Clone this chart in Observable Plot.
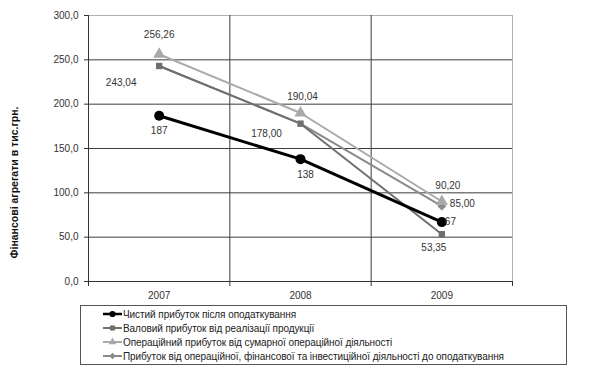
<!DOCTYPE html>
<html>
<head>
<meta charset="utf-8">
<script src="https://cdn.jsdelivr.net/npm/d3@7"></script>
<script src="https://cdn.jsdelivr.net/npm/@observablehq/plot@0.6"></script>
<style>
  body { margin: 0; background: #fff; font-family: "Liberation Sans", Arial, sans-serif; }
  #wrap { position: relative; width: 601px; height: 372px; }
  #legend { position: absolute; left: 80px; top: 305px; width: 485px; height: 58px; border: 1px solid #555; box-sizing: content-box; }
  .row { position: absolute; left: 22px; height: 14px; display: flex; align-items: center; font-size: 10px; letter-spacing: -0.07px; color: #222; white-space: nowrap; }
  .row svg { margin-right: 1px; }
</style>
</head>
<body>
<div id="wrap"><div id="chart"></div><div id="legend"></div></div>
<script>
const years = [2007, 2008, 2009];
const seriesNames = [
  "Чистий прибуток після оподаткування",
  "Валовий прибуток від реалізації продукції",
  "Операційний прибуток від сумарної операційної діяльності",
  "Прибуток від операційної, фінансової та інвестиційної діяльності до оподаткування"
];
const netProfit = [187, 138, 67];
const grossProfit = [243.04, 178.00, 53.35];
const operatingProfit = [256.26, 190.04, 90.20];
const pretaxProfit = [243.04, 178.00, 85.00];
const yTicks = [0, 50, 100, 150, 200, 250, 300];
const yTitle = "Фінансові агрегати в тис.грн.";

const colors = ["#000000", "#6f6f6f", "#a9a9a9", "#8a8a8a"];
const symbols = ["circle", "square", "triangle", "diamond2"];
const valueSets = [netProfit, grossProfit, operatingProfit, pretaxProfit];

const rows = [];
valueSets.forEach((vals, s) => vals.forEach((v, i) => rows.push({series: seriesNames[s], s, i, year: years[i], value: v})));
const bySeries = s => rows.filter(d => d.s === s);
const pick = (s, i) => rows.filter(d => d.s === s && d.year === years[i]);
const boundaries = years.map(y => y - 0.5).concat([years[years.length - 1] + 0.5]);
const fmt2 = v => v.toFixed(2).replace(".", ",");
const fmt0 = v => v.toFixed(0);

const labelStyle = {x: "year", y: "value", fontSize: 10, fill: "#333"};
const lbl = (s, i, f, opts) => Plot.text(pick(s, i), {...labelStyle, text: d => f(d.value), ...opts});

const chart = Plot.plot({
  width: 601,
  height: 305,
  marginLeft: 88,
  marginRight: 89,
  marginTop: 15,
  marginBottom: 24,
  style: {fontFamily: "'Liberation Sans', Arial, sans-serif", fontSize: "10px", color: "#333", background: "#fff"},
  x: {type: "linear", domain: [boundaries[0], boundaries[boundaries.length - 1]]},
  y: {domain: [yTicks[0], yTicks[yTicks.length - 1]]},
  marks: [
    Plot.gridY(yTicks.slice(1, -1), {stroke: "#3c3c3c", strokeOpacity: 1}),
    Plot.ruleY([yTicks[yTicks.length - 1]], {stroke: "#b0b0b0"}),
    Plot.ruleX(boundaries.slice(1, -1), {stroke: "#3c3c3c"}),
    Plot.ruleX(boundaries.slice(-1), {stroke: "#b0b0b0"}),
    Plot.axisY({ticks: yTicks, tickFormat: d => d.toFixed(1).replace(".", ","), tickSize: 4, tickPadding: 6, label: null, stroke: "#333", fill: "#333"}),
    Plot.axisX({ticks: boundaries, tickFormat: () => "", tickSize: 5, label: null, stroke: "#333"}),
    Plot.axisX({ticks: years, tickFormat: d => String(d), tickSize: 0, tickPadding: 10, label: null, fill: "#333"}),
    Plot.ruleX(boundaries.slice(0, 1), {stroke: "#333"}),
    Plot.ruleY(yTicks.slice(0, 1), {stroke: "#333"}),
    Plot.text([yTitle], {frameAnchor: "left", textAnchor: "middle", rotate: -90, dx: -74, dy: 34, fontWeight: "bold", fontSize: 10.5, fill: "#111"}),
    // lines
    Plot.line(bySeries(3), {x: "year", y: "value", stroke: colors[3], strokeWidth: 2}),
    Plot.line(bySeries(1), {x: "year", y: "value", stroke: colors[1], strokeWidth: 2}),
    Plot.line(bySeries(2), {x: "year", y: "value", stroke: colors[2], strokeWidth: 2}),
    Plot.line(bySeries(0), {x: "year", y: "value", stroke: colors[0], strokeWidth: 3}),
    // markers (diamonds hidden where they coincide with the squares)
    Plot.dot(bySeries(3).filter(d => d.value !== grossProfit[d.i]), {x: "year", y: "value", symbol: symbols[3], fill: colors[3], r: 4}),
    Plot.dot(bySeries(1), {x: "year", y: "value", symbol: symbols[1], fill: colors[1], r: 3.6}),
    Plot.dot(bySeries(2), {x: "year", y: "value", symbol: symbols[2], fill: colors[2], r: 4.5}),
    Plot.dot(bySeries(0), {x: "year", y: "value", symbol: symbols[0], fill: colors[0], r: 5}),
    // labels
    lbl(2, 0, fmt2, {dy: -19}),
    lbl(3, 0, fmt2, {dx: -38, dy: 17}),
    lbl(0, 0, fmt0, {dy: 15}),
    lbl(2, 1, fmt2, {dx: 2, dy: -16}),
    lbl(3, 1, fmt2, {dx: -34, dy: 10}),
    lbl(0, 1, fmt0, {dx: 5, dy: 16}),
    lbl(2, 2, fmt2, {dx: 6, dy: -16}),
    lbl(3, 2, fmt2, {dx: 8, dy: -2, textAnchor: "start"}),
    lbl(0, 2, fmt0, {dx: 3, dy: 0, textAnchor: "start"}),
    lbl(1, 2, fmt2, {dx: -8, dy: 14})
  ]
});
document.getElementById("chart").appendChild(chart);

// legend
const legend = document.getElementById("legend");
const d3sym = {circle: d3.symbolCircle, square: d3.symbolSquare, triangle: d3.symbolTriangle, diamond2: d3.symbolDiamond2};
seriesNames.forEach((name, s) => {
  const row = document.createElement("div");
  row.className = "row";
  row.style.top = (1 + s * 14) + "px";
  const sw = d3.create("svg").attr("width", 19).attr("height", 14);
  sw.append("line").attr("x1", 0).attr("x2", 19).attr("y1", 7).attr("y2", 7)
    .attr("stroke", colors[s]).attr("stroke-width", s === 0 ? 2.5 : 2);
  const sym = d3.symbol().type(d3sym[symbols[s]]).size(s === 0 ? 30 : 26);
  sw.append("path").attr("d", sym()).attr("transform", "translate(9.5,7)").attr("fill", colors[s]);
  row.appendChild(sw.node());
  const t = document.createElement("span");
  t.textContent = name;
  row.appendChild(t);
  legend.appendChild(row);
});
</script>
</body>
</html>
